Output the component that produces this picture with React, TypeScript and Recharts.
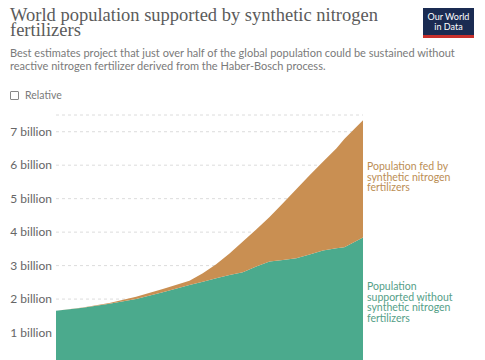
import { AreaChart, Area, XAxis, YAxis, CartesianGrid } from "recharts";

const years = [
  1900, 1910, 1920, 1930, 1940, 1950, 1955, 1960, 1965, 1970, 1975, 1980, 1985, 1990, 1995, 2000,
  2005, 2008, 2015,
];
const totalPopulation = [
  1.65, 1.75, 1.88, 2.07, 2.3, 2.55, 2.77, 3.04, 3.36, 3.72, 4.08, 4.45, 4.86, 5.28, 5.7, 6.1,
  6.5, 6.78, 7.34,
];
const withoutSynthetic = [
  1.65, 1.74, 1.86, 2.0, 2.2, 2.42, 2.52, 2.62, 2.72, 2.8, 2.97, 3.12, 3.17, 3.22, 3.33, 3.45,
  3.52, 3.55, 3.84,
];
const yTicks = [1, 2, 3, 4, 5, 6, 7];

const data = years.map((year, i) => ({
  year,
  without: withoutSynthetic[i],
  fed: +(totalPopulation[i] - withoutSynthetic[i]).toFixed(2),
}));

const GREEN = "#4baa8d";
const TAN = "#c98f52";

export default function App() {
  return (
    <div
      style={{
        position: "absolute",
        left: 0,
        top: 0,
        width: 485,
        height: 360,
        overflow: "hidden",
        background: "#fff",
        fontFamily: "Lato, sans-serif",
      }}
    >
      <div
        style={{
          position: "absolute",
          left: 10,
          top: 8,
          fontFamily: "'Liberation Serif', serif",
          fontSize: 18.5,
          lineHeight: "15px",
          color: "#5b5b5b",
          width: 410,
        }}
      >
        World population supported by synthetic nitrogen
        <br />
        fertilizers
      </div>
      <div
        style={{
          position: "absolute",
          left: 10,
          top: 46,
          fontSize: 11,
          lineHeight: "13px",
          color: "#7a7a7a",
          whiteSpace: "nowrap",
        }}
      >
        Best estimates project that just over half of the global population could be sustained without
        <br />
        reactive nitrogen fertilizer derived from the Haber-Bosch process.
      </div>
      <div
        style={{
          position: "absolute",
          left: 423,
          top: 8,
          width: 51,
          height: 30,
          background: "#1a2b52",
          borderBottom: "3px solid #c8302c",
          boxSizing: "border-box",
          color: "#fff",
          fontSize: 9,
          lineHeight: "10px",
          textAlign: "center",
          paddingTop: 4,
        }}
      >
        Our World
        <br />
        in Data
      </div>
      <div
        style={{
          position: "absolute",
          left: 10,
          top: 89,
          display: "flex",
          alignItems: "center",
          fontSize: 10.5,
          color: "#7a7a7a",
        }}
      >
        <span
          style={{
            display: "inline-block",
            width: 7,
            height: 7,
            border: "1px solid #888",
            borderRadius: 1,
            marginRight: 6,
          }}
        />
        Relative
      </div>

      <div style={{ position: "absolute", left: 0, top: 0 }}>
        <AreaChart
          width={485}
          height={400}
          data={data}
          margin={{ top: 115, right: 122, bottom: 34, left: 0 }}
        >
          <CartesianGrid vertical={false} stroke="#dcdcdc" strokeDasharray="3 3" />
          <XAxis dataKey="year" type="number" domain={[1900, 2015]} hide />
          <YAxis
            width={56}
            domain={[0, 7.5]}
            ticks={yTicks}
            axisLine={false}
            tickLine={false}
            tickSize={0}
            tickMargin={4}
            tick={{ fill: "#666", fontSize: 12, fontFamily: "Lato, sans-serif" }}
            tickFormatter={(v: number) => `${v} billion`}
          />
          <Area
            type="linear"
            dataKey="without"
            stackId="pop"
            stroke="none"
            fill={GREEN}
            fillOpacity={1}
            isAnimationActive={false}
          />
          <Area
            type="linear"
            dataKey="fed"
            stackId="pop"
            stroke="none"
            fill={TAN}
            fillOpacity={1}
            isAnimationActive={false}
          />
        </AreaChart>
      </div>

      <div
        style={{
          position: "absolute",
          left: 367,
          top: 161,
          fontSize: 10.5,
          lineHeight: "10.5px",
          color: "#bb8e55",
        }}
      >
        Population fed by
        <br />
        synthetic nitrogen
        <br />
        fertilizers
      </div>
      <div
        style={{
          position: "absolute",
          left: 367,
          top: 281,
          fontSize: 10.5,
          lineHeight: "10.5px",
          color: "#55a088",
        }}
      >
        Population
        <br />
        supported without
        <br />
        synthetic nitrogen
        <br />
        fertilizers
      </div>
    </div>
  );
}
